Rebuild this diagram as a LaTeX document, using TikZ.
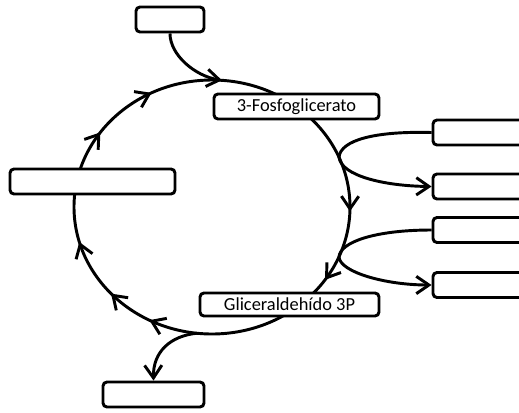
\documentclass[tikz,border=0pt]{standalone}
\usepackage{fontspec}
\setmainfont{Carlito}
\usetikzlibrary{arrows.meta}
\tikzset{box/.style={draw,line width=2.2pt,rounded corners=3pt,fill=white,inner sep=0pt,font=\fontsize{13.8}{16}\selectfont}}
\begin{document}
\begin{tikzpicture}[>={Straight Barb[length=9.5pt,width=13pt]},x=0.75pt,y=-0.75pt,line width=2.2pt]
                    \path[use as bounding box] (0,0) rectangle (519,412);
                    \clip (0,0) rectangle (519,412);
                    \draw (212,207) ellipse [x radius=103.5pt,y radius=95.25pt];
                    \foreach \a in {2,35,117,137,164,216,244}
                        \draw[->] ({212+138*cos(\a-3)},{207+127*sin(\a-3)}) -- ({212+138*cos(\a)},{207+127*sin(\a)});
                    \node[box,minimum width=51pt,minimum height=18.75pt] (topin) at (170,19.5) {};
                    \node[box,minimum width=123.75pt,minimum height=18.75pt] (fosfo) at (296.5,106.5) {3-Fosfoglicerato};
                    \node[box,minimum width=123.75pt,minimum height=18.75pt] (leftin) at (92.5,181.5) {};
                    \node[box,minimum width=134.25pt,minimum height=17.25pt] (gli) at (289.5,304.5) {Gliceraldeh\'ido 3P};
                    \node[box,minimum width=75.75pt,minimum height=18.75pt] (botout) at (153.5,394.5) {};
                    \node[box,minimum width=73.5pt,minimum height=18.75pt] (rone) at (482,132.5) {};
                    \node[box,minimum width=73.5pt,minimum height=18.75pt] (rtwo) at (482,186.5) {};
                    \node[box,minimum width=73.5pt,minimum height=18.75pt] (rthree) at (482,230) {};
                    \node[box,minimum width=73.5pt,minimum height=18.75pt] (rfour) at (482,285) {};
                    \coordinate (join) at (222,80.3);
                    \coordinate (jone) at (339,157);
                    \coordinate (jtwo) at (339,257);
                    \coordinate (jbot) at (197,333.2);
                    \draw[->] (topin.south) .. controls (170,55) and (195,76) .. (join);
                    \draw[->] (rone.west) .. controls (375,131) and (341,140) .. (jone) .. controls (341,176) and (385,186) .. (rtwo.west);
                    \draw[->] (rthree.west) .. controls (375,230) and (340,242) .. (jtwo) .. controls (340,272) and (385,285) .. (rfour.west);
                    \draw[->] (jbot) .. controls (170,336) and (153,352) .. (botout.north);
                \end{tikzpicture}
\end{document}
